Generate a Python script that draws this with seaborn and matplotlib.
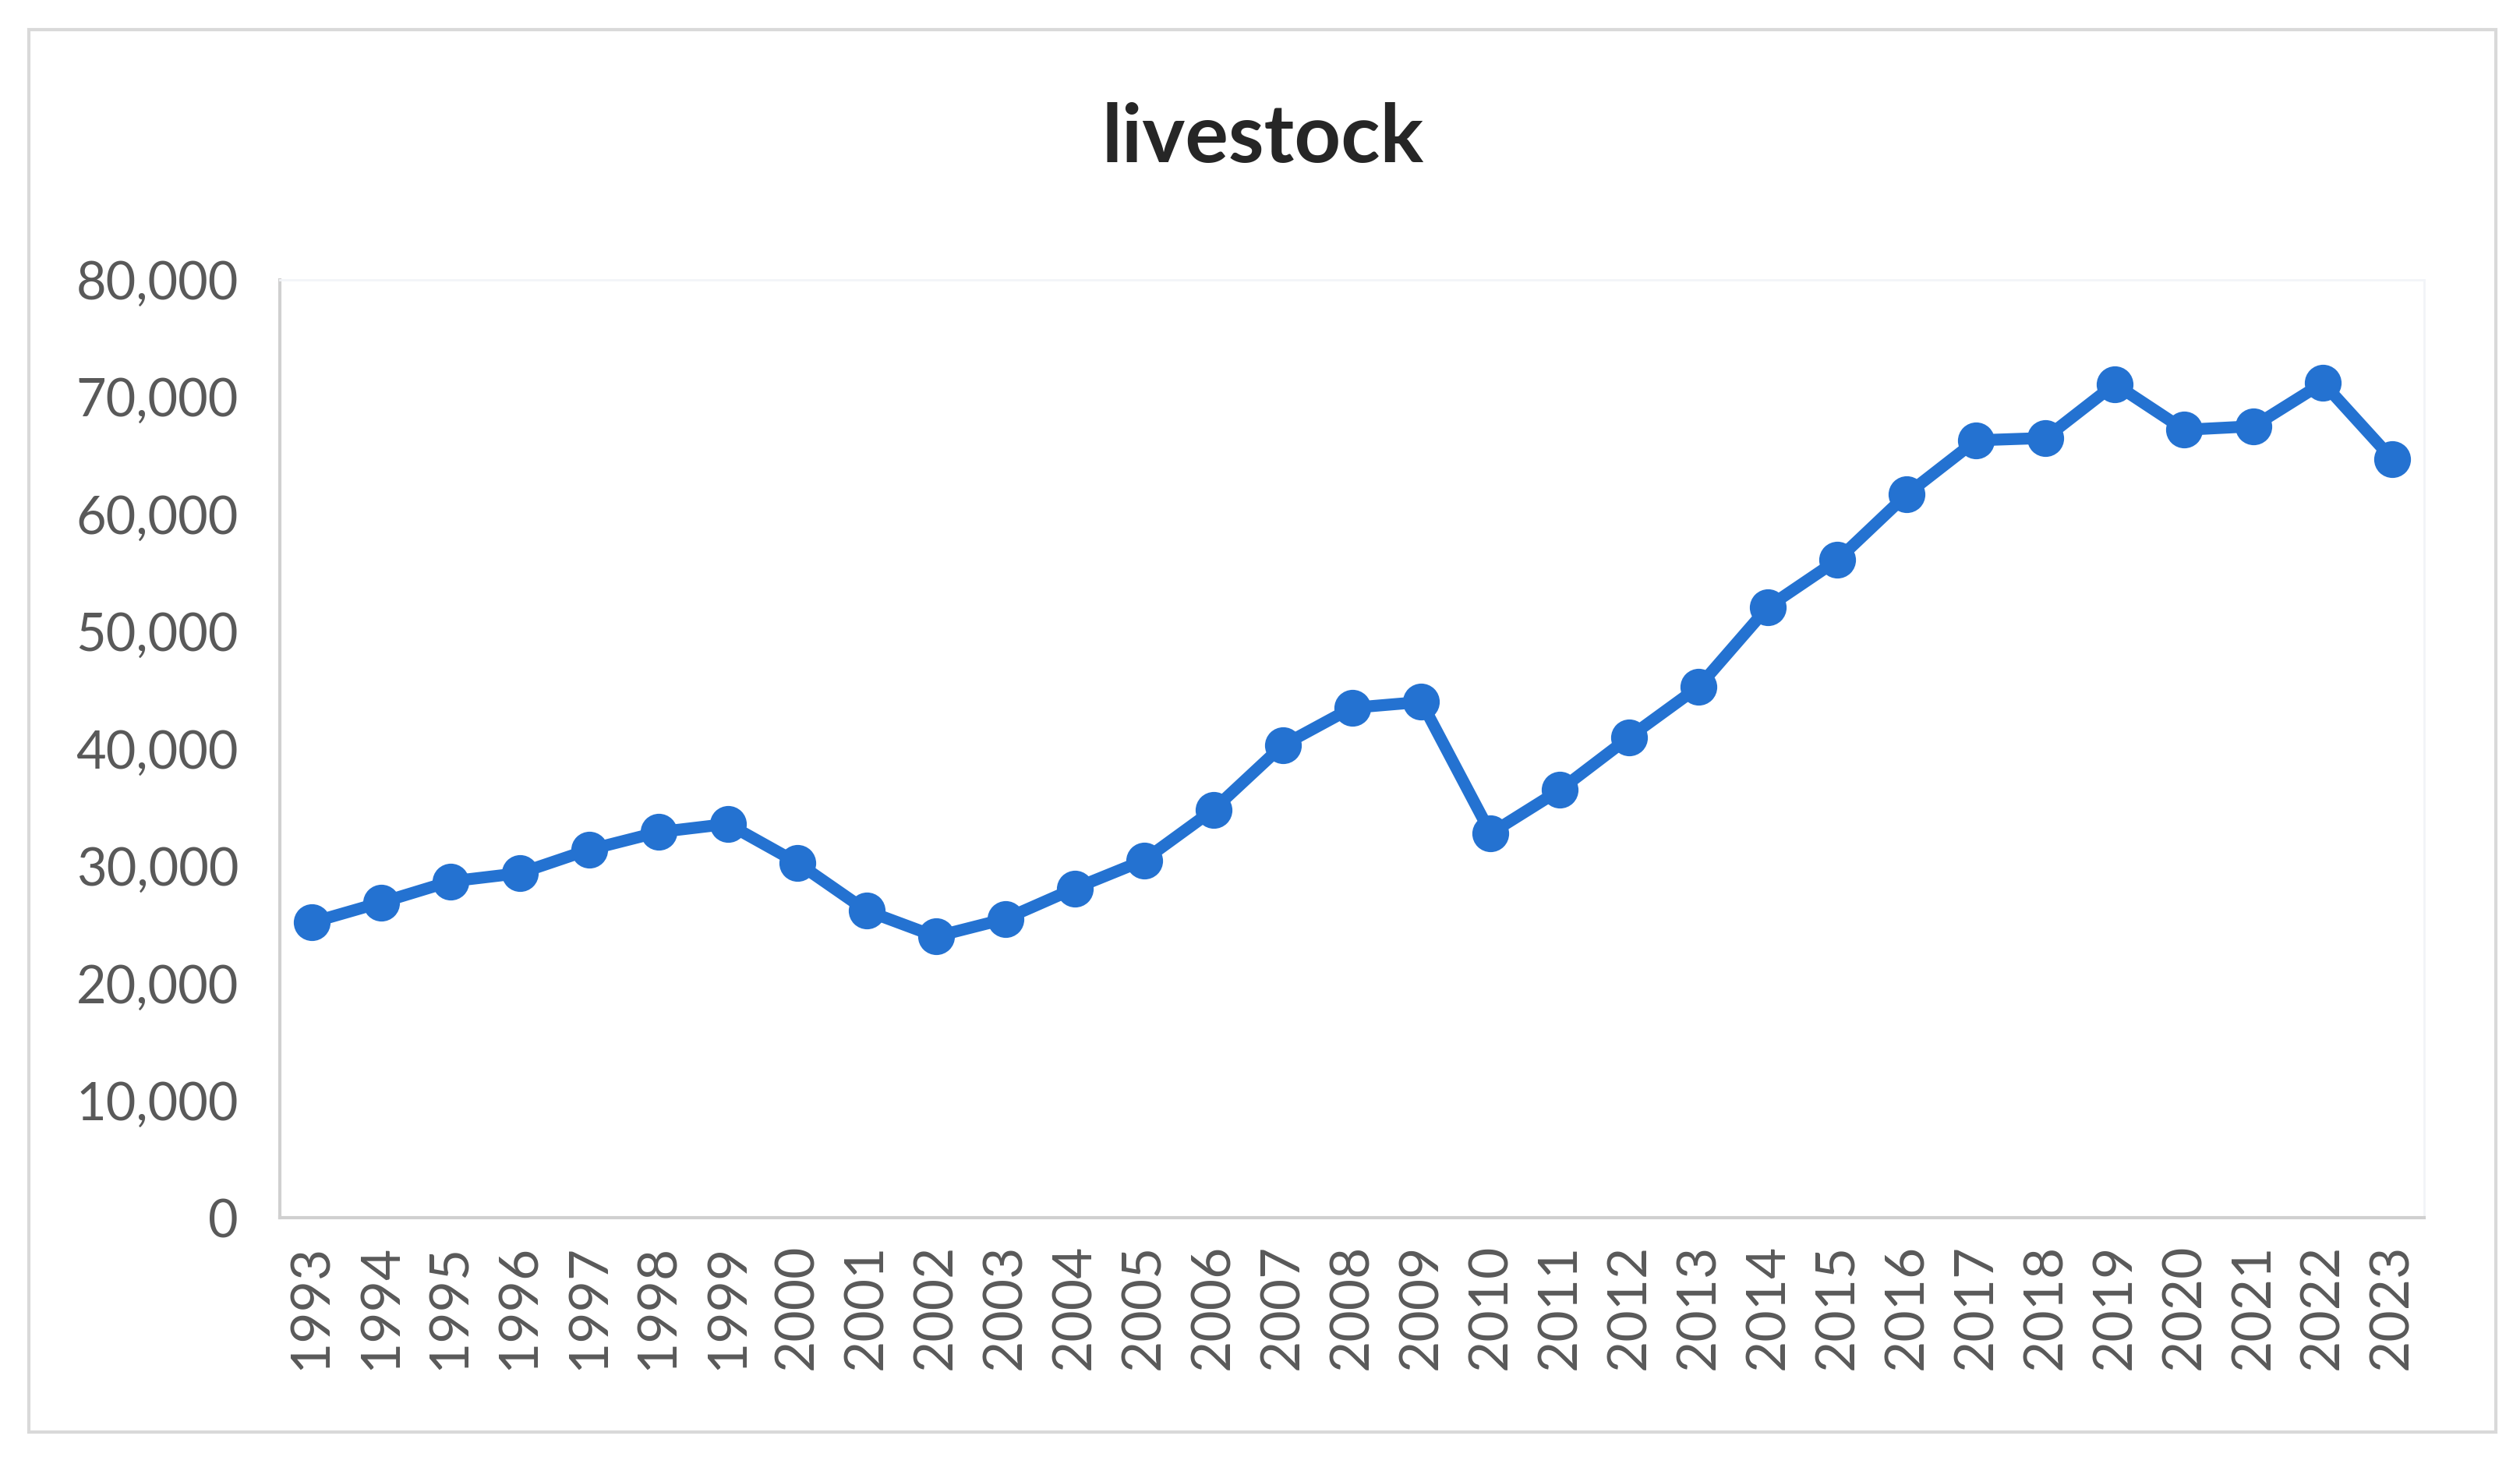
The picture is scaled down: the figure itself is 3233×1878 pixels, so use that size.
"""
livestock line chart, Excel look
"""
import pandas as pd
import matplotlib.pyplot as plt
import seaborn as sns
from matplotlib.patches import Rectangle
from matplotlib.ticker import FuncFormatter

years = [str(y) for y in range(1993, 2024)]
livestock = [25200, 26900, 28700, 29400, 31400, 32900, 33600, 30300, 26200, 24000,
             25500, 28100, 30500, 34800, 40300, 43500, 44000, 32800, 36500, 41000,
             45300, 52100, 56100, 61700, 66300, 66500, 71100, 67200, 67500, 71200,
             64700]
y_ticks = [0, 10000, 20000, 30000, 40000, 50000, 60000, 70000, 80000]

LINE_BLUE = "#2472D1"
TEXT_GREY = "#595959"

sns.set_style("white")
plt.rcParams["font.family"] = ["Lato", "DejaVu Sans"]

df = pd.DataFrame({"year": years, "value": livestock})

fig = plt.figure(figsize=(32.33, 18.78), dpi=100)
ax = fig.add_axes([0.111, 0.168, 0.851, 0.641])

sns.lineplot(data=df, x="year", y="value", ax=ax, color=LINE_BLUE,
             linewidth=11, marker="o", markersize=34, markeredgewidth=0,
             sort=False)

ax.set_xlim(-0.46, len(years) - 0.54)
ax.set_ylim(0, 80000)
ax.set_yticks(y_ticks)
ax.yaxis.set_major_formatter(FuncFormatter(lambda v, p: f"{int(v):,}"))
ax.set_xlabel("")
ax.set_ylabel("")
ax.tick_params(axis="both", length=0, labelsize=48, labelcolor=TEXT_GREY)
ax.tick_params(axis="y", pad=38)
ax.tick_params(axis="x", pad=24)
ax.tick_params(axis="x", labelsize=50)
plt.setp(ax.get_xticklabels(), rotation=90)

for side in ["left", "bottom"]:
    ax.spines[side].set_color("#D0D0D0")
    ax.spines[side].set_linewidth(3)
for side in ["top", "right"]:
    ax.spines[side].set_color("#F2F4F8")
    ax.spines[side].set_linewidth(2)

fig.text(0.501, 0.905, "livestock", ha="center", va="center",
         fontsize=75, fontweight="bold", color="#262626")

fig.patches.append(Rectangle((0.0115, 0.022), 0.979, 0.958, transform=fig.transFigure,
                             fill=False, edgecolor="#D9D9D9", linewidth=3))

plt.savefig("out.png", dpi=100)
plt.close()
